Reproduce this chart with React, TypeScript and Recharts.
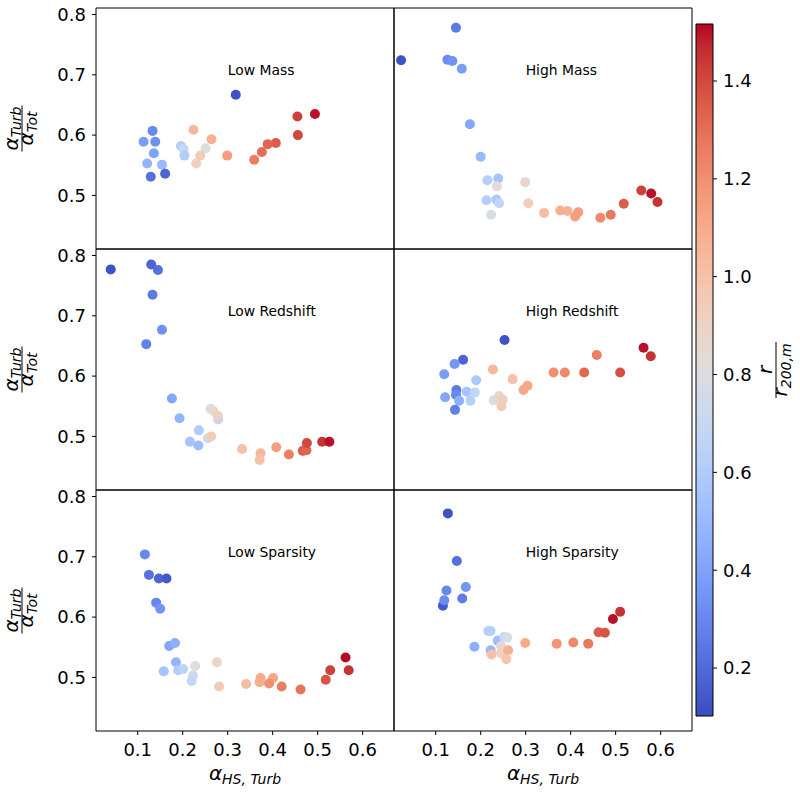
import { ReferenceArea, ReferenceDot, Scatter, ScatterChart, XAxis, YAxis } from 'recharts';

// axis limits
const X_DOMAIN: [number, number] = [0.0073, 0.6697];
const Y_DOMAIN: [number, number] = [0.4111, 0.8108];
const C_DOMAIN: [number, number] = [0.102, 1.5165];
const X_TICKS = [0.1, 0.2, 0.3, 0.4, 0.5, 0.6];
const Y_TICKS = [0.5, 0.6, 0.7, 0.8];
const C_TICKS = [0.2, 0.4, 0.6, 0.8, 1.0, 1.2, 1.4];

const lowMassX = [0.318, 0.494, 0.455, 0.456, 0.407, 0.389, 0.376, 0.359, 0.299, 0.264, 0.224, 0.251, 0.239, 0.23, 0.196, 0.202, 0.204, 0.133, 0.113, 0.139, 0.136, 0.121, 0.154, 0.129, 0.161];
const lowMassY = [0.667, 0.635, 0.631, 0.6, 0.587, 0.585, 0.572, 0.559, 0.566, 0.593, 0.609, 0.578, 0.566, 0.553, 0.582, 0.577, 0.566, 0.607, 0.589, 0.589, 0.57, 0.553, 0.551, 0.531, 0.536];
const lowMassR = [0.12, 1.5, 1.42, 1.4, 1.35, 1.33, 1.3, 1.25, 1.15, 1.08, 1.05, 0.8, 0.95, 0.92, 0.62, 0.7, 0.6, 0.3, 0.38, 0.33, 0.4, 0.48, 0.5, 0.22, 0.18];

const highMassX = [0.145, 0.023, 0.126, 0.137, 0.158, 0.176, 0.2, 0.215, 0.239, 0.236, 0.299, 0.213, 0.235, 0.241, 0.223, 0.306, 0.341, 0.377, 0.393, 0.417, 0.41, 0.466, 0.489, 0.518, 0.557, 0.579, 0.593];
const highMassY = [0.778, 0.724, 0.725, 0.723, 0.71, 0.618, 0.564, 0.525, 0.528, 0.515, 0.522, 0.492, 0.493, 0.487, 0.468, 0.487, 0.471, 0.475, 0.474, 0.472, 0.465, 0.463, 0.468, 0.486, 0.508, 0.503, 0.489];
const highMassR = [0.25, 0.12, 0.32, 0.34, 0.38, 0.42, 0.5, 0.62, 0.55, 0.82, 0.88, 0.62, 0.58, 0.68, 0.78, 0.93, 1.02, 1.08, 1.07, 1.15, 1.15, 1.22, 1.27, 1.35, 1.42, 1.5, 1.45];

const lowRedshiftX = [0.04, 0.13, 0.145, 0.133, 0.154, 0.119, 0.176, 0.193, 0.236, 0.216, 0.235, 0.262, 0.268, 0.279, 0.278, 0.256, 0.263, 0.332, 0.373, 0.371, 0.408, 0.436, 0.467, 0.475, 0.476, 0.51, 0.526];
const lowRedshiftY = [0.777, 0.785, 0.776, 0.735, 0.677, 0.653, 0.563, 0.53, 0.51, 0.491, 0.485, 0.546, 0.542, 0.528, 0.534, 0.497, 0.5, 0.479, 0.472, 0.461, 0.482, 0.47, 0.476, 0.477, 0.489, 0.491, 0.491];
const lowRedshiftR = [0.12, 0.18, 0.22, 0.25, 0.33, 0.28, 0.42, 0.48, 0.6, 0.55, 0.52, 0.82, 0.85, 0.7, 0.92, 0.72, 0.95, 1.0, 1.05, 1.0, 1.15, 1.25, 1.35, 1.33, 1.4, 1.45, 1.5];

const highRedshiftX = [0.253, 0.562, 0.578, 0.458, 0.51, 0.43, 0.387, 0.362, 0.304, 0.295, 0.271, 0.227, 0.161, 0.142, 0.119, 0.19, 0.146, 0.145, 0.169, 0.187, 0.121, 0.152, 0.177, 0.143, 0.229, 0.241, 0.249, 0.246];
const highRedshiftY = [0.66, 0.647, 0.633, 0.635, 0.606, 0.606, 0.606, 0.606, 0.584, 0.577, 0.595, 0.611, 0.627, 0.62, 0.603, 0.593, 0.577, 0.569, 0.574, 0.573, 0.565, 0.559, 0.559, 0.544, 0.56, 0.567, 0.561, 0.55];
const highRedshiftR = [0.12, 1.5, 1.45, 1.25, 1.38, 1.32, 1.22, 1.2, 1.12, 1.12, 1.0, 1.05, 0.18, 0.35, 0.38, 0.58, 0.25, 0.3, 0.55, 0.68, 0.42, 0.45, 0.62, 0.27, 0.78, 0.88, 0.92, 0.95];

const lowSparsityX = [0.116, 0.125, 0.147, 0.164, 0.141, 0.15, 0.17, 0.183, 0.185, 0.158, 0.19, 0.201, 0.228, 0.223, 0.22, 0.276, 0.281, 0.341, 0.371, 0.373, 0.401, 0.392, 0.42, 0.462, 0.518, 0.528, 0.569, 0.562];
const lowSparsityY = [0.704, 0.67, 0.664, 0.664, 0.624, 0.614, 0.552, 0.557, 0.525, 0.51, 0.512, 0.514, 0.519, 0.503, 0.494, 0.525, 0.485, 0.489, 0.492, 0.499, 0.499, 0.49, 0.485, 0.48, 0.496, 0.512, 0.512, 0.533];
const lowSparsityR = [0.3, 0.23, 0.18, 0.14, 0.3, 0.35, 0.42, 0.45, 0.48, 0.55, 0.6, 0.65, 0.82, 0.72, 0.68, 0.88, 0.95, 1.02, 1.08, 1.1, 1.12, 1.2, 1.25, 1.28, 1.37, 1.42, 1.45, 1.51];

const highSparsityX = [0.127, 0.147, 0.167, 0.124, 0.159, 0.116, 0.119, 0.217, 0.222, 0.186, 0.238, 0.252, 0.259, 0.245, 0.222, 0.224, 0.245, 0.261, 0.257, 0.299, 0.369, 0.406, 0.439, 0.462, 0.476, 0.494, 0.51];
const highSparsityY = [0.772, 0.693, 0.65, 0.644, 0.631, 0.619, 0.628, 0.577, 0.577, 0.551, 0.561, 0.567, 0.566, 0.552, 0.545, 0.538, 0.54, 0.545, 0.53, 0.557, 0.556, 0.558, 0.556, 0.575, 0.574, 0.597, 0.609];
const highSparsityR = [0.12, 0.22, 0.35, 0.3, 0.26, 0.15, 0.32, 0.62, 0.63, 0.45, 0.52, 0.7, 0.78, 0.85, 0.5, 1.0, 0.92, 1.08, 0.98, 1.1, 1.18, 1.22, 1.27, 1.35, 1.37, 1.5, 1.45];

// coolwarm (Moreland) control points, 33 evenly spaced
const COOLWARM = [
  [59, 76, 192], [68, 90, 204], [77, 104, 215], [87, 117, 225], [98, 130, 234], [108, 142, 241],
  [119, 154, 247], [130, 165, 251], [141, 176, 254], [152, 185, 255], [163, 194, 255], [174, 201, 253],
  [184, 208, 249], [194, 213, 244], [204, 217, 238], [213, 219, 230], [221, 221, 221], [229, 216, 209],
  [236, 211, 197], [241, 204, 185], [245, 196, 173], [247, 187, 160], [247, 177, 148], [247, 166, 135],
  [244, 154, 123], [241, 141, 111], [236, 127, 99], [229, 112, 88], [222, 96, 77], [213, 80, 66],
  [203, 62, 56], [192, 40, 47], [180, 4, 38],
];

function coolwarm(t: number) {
  const c = Math.max(0, Math.min(1, t)) * (COOLWARM.length - 1);
  const i = Math.min(COOLWARM.length - 2, Math.floor(c));
  const f = c - i;
  const a = COOLWARM[i], b = COOLWARM[i + 1];
  const ch = (k: number) => Math.round(a[k] + (b[k] - a[k]) * f);
  return `rgb(${ch(0)},${ch(1)},${ch(2)})`;
}

const colorOf = (r: number) => coolwarm((r - C_DOMAIN[0]) / (C_DOMAIN[1] - C_DOMAIN[0]));
const fmt = (v: number) => v.toFixed(1);

const COLS = [96, 394];
const ROWS = [8, 249, 490];
const PW = 298;
const PH = 241;
const FONT = '"DejaVu Sans", sans-serif';

type PanelProps = { title: string; xs: number[]; ys: number[]; rs: number[]; col: number; row: number };

function Panel({ title, xs, ys, rs, col, row }: PanelProps) {
  const data = xs.map((x, i) => ({ x, y: ys[i], r: rs[i], color: colorOf(rs[i]) }));
  const left = col === 0;
  const bottom = row === 2;
  const tickStyle = { fill: '#000', fontSize: 18 };
  return (
    <div style={{ position: 'absolute', left: COLS[col] - 70, top: ROWS[row] - 10 }}>
      <ScatterChart width={PW + 80} height={PH + 50} margin={{ top: 10, right: 10, bottom: 10, left: 10 }}>
        <XAxis
          type="number" dataKey="x" domain={X_DOMAIN} allowDataOverflow ticks={X_TICKS} height={30}
          axisLine={false} tickLine={bottom ? { stroke: '#000' } : false} tick={bottom ? tickStyle : false}
          tickSize={4} tickMargin={8} tickFormatter={fmt}
        />
        <YAxis
          type="number" dataKey="y" domain={Y_DOMAIN} allowDataOverflow ticks={Y_TICKS} width={60}
          axisLine={false} tickLine={{ stroke: '#000' }} tick={left ? tickStyle : false}
          tickSize={4} tickMargin={6} tickFormatter={fmt}
        />
        <ReferenceArea
          x1={X_DOMAIN[0]} x2={X_DOMAIN[1]} y1={Y_DOMAIN[0]} y2={Y_DOMAIN[1]}
          fill="none" fillOpacity={0} stroke="#000" strokeWidth={1} strokeOpacity={1}
        />
        <ReferenceDot
          x={0.3} y={0.7} r={0}
          shape={(p: any) => (
            <text x={p.cx} y={p.cy} fontSize={13.9} fill="#000" fontFamily={FONT}>{title}</text>
          )}
        />
        <Scatter
          data={data} isAnimationActive={false}
          shape={(p: any) => <circle cx={p.cx} cy={p.cy} r={5} fill={p.payload.color} />}
        />
      </ScatterChart>
    </div>
  );
}

function ColorBar() {
  const data = C_TICKS.map((t) => ({ x: 0.5, y: t }));
  return (
    <div style={{ position: 'absolute', left: 686, top: 14 }}>
      <ScatterChart width={97} height={712} margin={{ top: 10, right: 10, bottom: 10, left: 10 }}>
        <XAxis type="number" dataKey="x" domain={[0, 1]} hide />
        <YAxis
          type="number" dataKey="y" orientation="right" domain={C_DOMAIN} allowDataOverflow ticks={C_TICKS}
          width={60} axisLine={false} tickLine={{ stroke: '#000' }} tick={{ fill: '#000', fontSize: 18 }}
          tickSize={4} tickMargin={6} tickFormatter={fmt}
        />
        <ReferenceArea
          x1={0} x2={1} y1={C_DOMAIN[0]} y2={C_DOMAIN[1]}
          fill="url(#coolwarmGrad)" fillOpacity={1} stroke="#000" strokeWidth={1} strokeOpacity={1}
        />
        <Scatter data={data} isAnimationActive={false} shape={() => <g />} />
      </ScatterChart>
    </div>
  );
}

function Frac({ cx, cy, num, numSub, den, denSub, len }: {
  cx: number; cy: number; num: string; numSub?: string; den: string; denSub?: string; len: number;
}) {
  return (
    <g transform={`translate(${cx},${cy}) rotate(-90)`} fontFamily={FONT} fontStyle="italic" fill="#000">
      <text x={0} y={-4} textAnchor="middle">
        <tspan fontSize={20}>{num}</tspan>
        {numSub && <tspan fontSize={14} dy={3}>{numSub}</tspan>}
      </text>
      <line x1={-len / 2} x2={len / 2} y1={0} y2={0} stroke="#000" strokeWidth={1} />
      <text x={0} y={11} textAnchor="middle">
        <tspan fontSize={20}>{den}</tspan>
        {denSub && <tspan fontSize={14} dy={4}>{denSub}</tspan>}
      </text>
    </g>
  );
}

export default function App() {
  const panels = [
    { title: 'Low Mass', xs: lowMassX, ys: lowMassY, rs: lowMassR },
    { title: 'High Mass', xs: highMassX, ys: highMassY, rs: highMassR },
    { title: 'Low Redshift', xs: lowRedshiftX, ys: lowRedshiftY, rs: lowRedshiftR },
    { title: 'High Redshift', xs: highRedshiftX, ys: highRedshiftY, rs: highRedshiftR },
    { title: 'Low Sparsity', xs: lowSparsityX, ys: lowSparsityY, rs: lowSparsityR },
    { title: 'High Sparsity', xs: highSparsityX, ys: highSparsityY, rs: highSparsityR },
  ];
  return (
    <div style={{ position: 'absolute', left: 0, top: 0, width: 800, height: 795, background: '#fff', fontFamily: FONT }}>
      {panels.map((p, i) => (
        <Panel key={p.title} {...p} col={i % 2} row={Math.floor(i / 2)} />
      ))}
      <ColorBar />
      <svg width={800} height={795} style={{ position: 'absolute', left: 0, top: 0, pointerEvents: 'none' }}>
        <defs>
          <linearGradient id="coolwarmGrad" x1="0" y1="1" x2="0" y2="0">
            {COOLWARM.map((_, i) => (
              <stop key={i} offset={i / (COOLWARM.length - 1)} stopColor={coolwarm(i / (COOLWARM.length - 1))} />
            ))}
          </linearGradient>
        </defs>
        {ROWS.map((top) => (
          <Frac key={top} cx={22} cy={top + PH / 2} num="α" numSub="Turb" den="α" denSub="Tot" len={46} />
        ))}
        <Frac cx={776} cy={370} num="r" den="r" denSub="200,m" len={56} />
        {COLS.map((l) => (
          <text key={l} x={l + PW / 2} y={780} textAnchor="middle" fontFamily={FONT} fontStyle="italic" fill="#000">
            <tspan fontSize={20}>α</tspan>
            <tspan fontSize={14} dy={4}>HS, Turb</tspan>
          </text>
        ))}
      </svg>
    </div>
  );
}
